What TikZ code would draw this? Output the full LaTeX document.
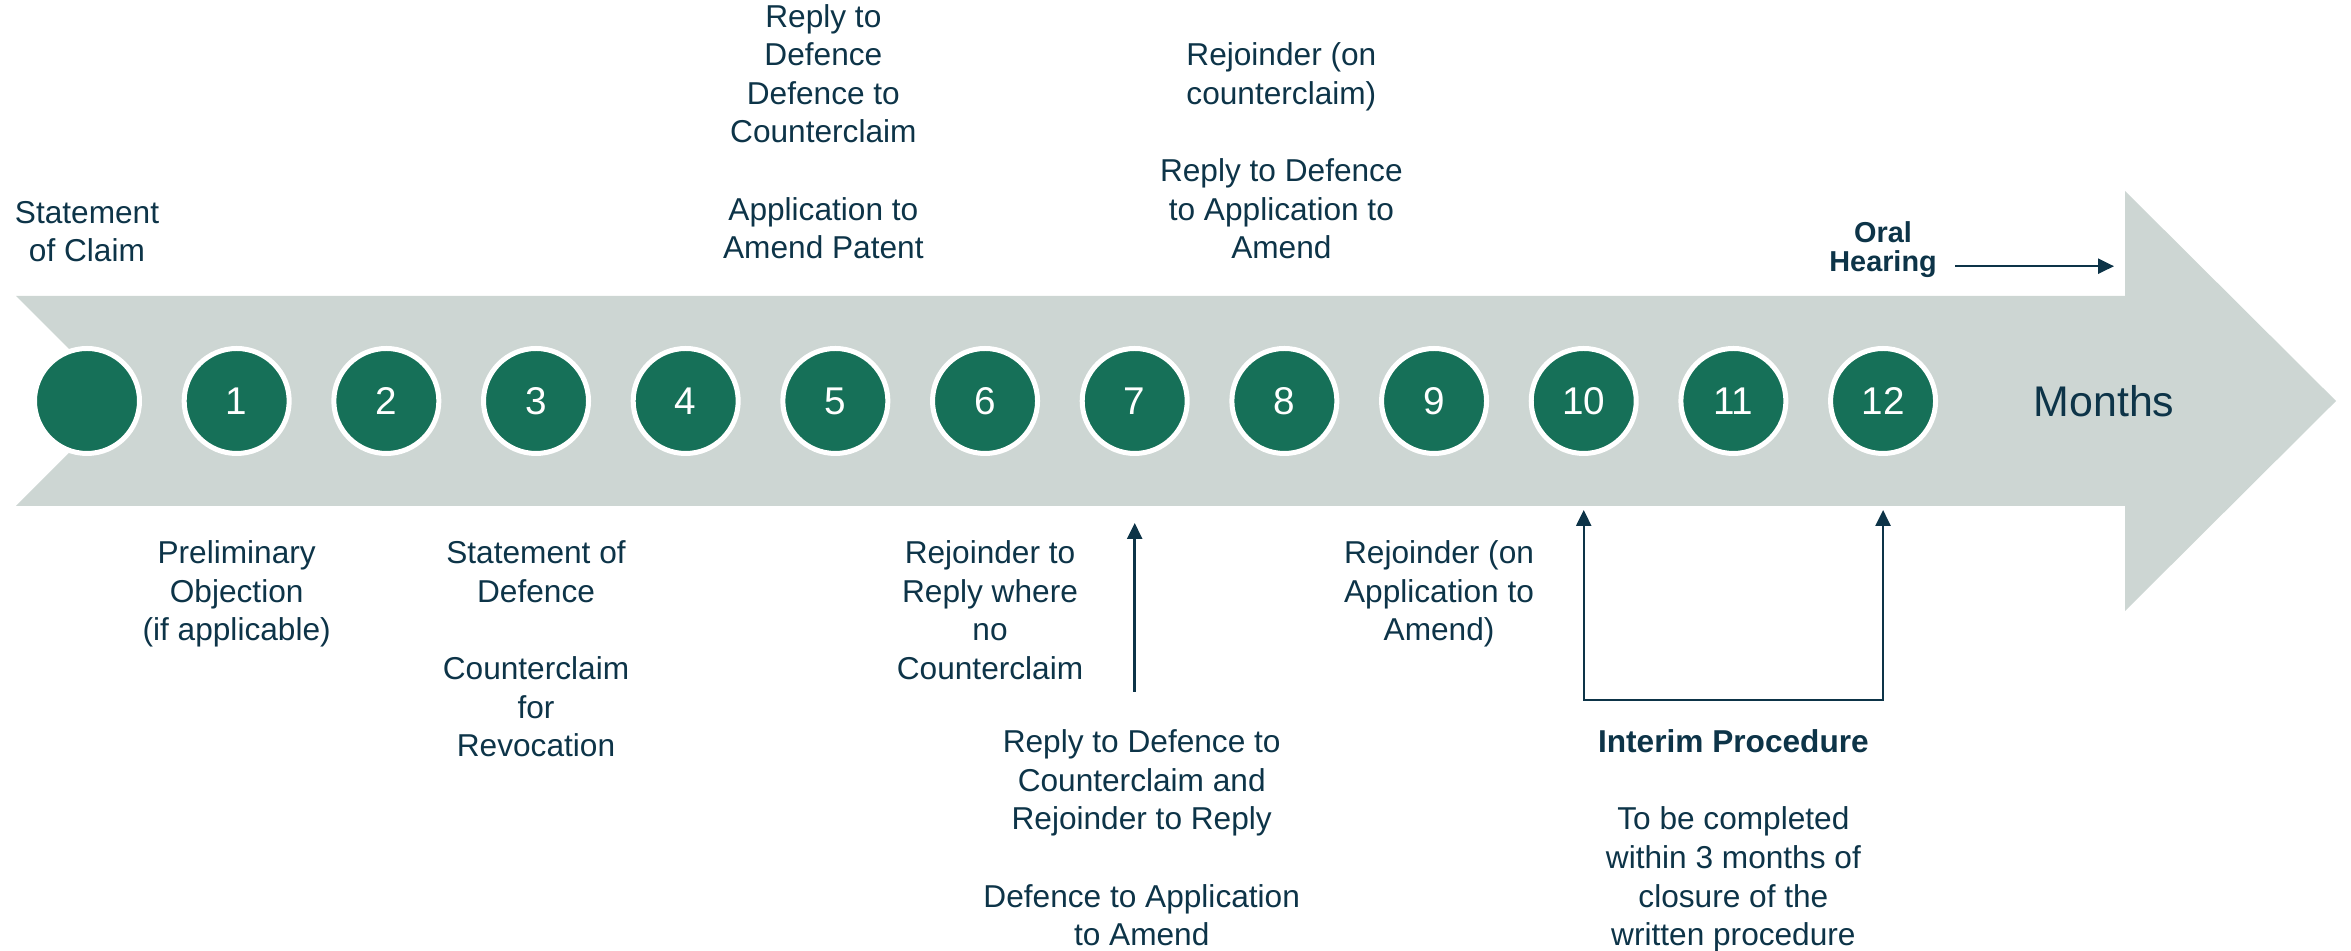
\documentclass[tikz,border=0pt]{standalone}
\usepackage{fontspec}
\setmainfont{Liberation Sans}
\usepackage{xcolor}
\usepackage{tikz}
\usetikzlibrary{arrows.meta, positioning, calc}
\definecolor{tlgreen}{RGB}{22,112,88}
\definecolor{tlgrey}{RGB}{205,214,211}
\definecolor{tlnavy}{RGB}{13,52,72}
\tikzstyle{month} = [circle, minimum size=1.05cm, inner sep=0pt, fill=tlgreen, draw=white, line width=0.05cm, text=white, font=\fontsize{11}{11}\selectfont]
\tikzstyle{stagetext} = [align=center, inner sep=0pt, text=tlnavy, font=\fontsize{9}{11}\selectfont]
\tikzstyle{arrow} = [line width=0.7pt, draw=tlnavy, -{Triangle[length=0.16cm,width=0.15cm]}]
\tikzstyle{twoway} = [line width=0.7pt, draw=tlnavy, {Triangle[length=0.16cm,width=0.15cm]}-{Triangle[length=0.16cm,width=0.15cm]}]

\begin{document}
\begin{tikzpicture}
    \useasboundingbox (0,4.01) rectangle (23.51,-5.50);
    % Timeline arrow
    \fill [tlgrey] (0.16,1.05) -- (21.25,1.05) -- (21.25,2.10) -- (23.36,0) -- (21.25,-2.10) -- (21.25,-1.05) -- (0.16,-1.05) -- (1.21,0) -- cycle;
    \coordinate (headtop) at (21.25,2.10);

    % Month markers
    \foreach \i in {0,...,12}
        \node (m\i) [month] at ({0.87+1.4967*\i},0) {\ifnum\i>0 \i\fi};
    \node (months) [right=0.95cm of m12, inner sep=0pt, text=tlnavy, font=\fontsize{12.2}{14}\selectfont] {Months};

    % Above the timeline
    \node (claim) [stagetext, above=0.83cm of m0] {Statement\\of Claim};
    \node (defcc) [stagetext, above=0.86cm of m5, xshift=-0.12cm] {Reply to\\Defence\\Defence to\\Counterclaim\\[11pt]Application to\\Amend Patent};
    \node (rejcc) [stagetext, above=0.86cm of m8, xshift=-0.03cm] {Rejoinder (on\\counterclaim)\\[11pt]Reply to Defence\\to Application to\\Amend};
    \node (oral) [stagetext, above=0.68cm of m12, font=\fontsize{8.2}{8.3}\selectfont\bfseries] {Oral\\Hearing};

    % Below the timeline
    \node (prelim) [stagetext, below=0.84cm of m1] {Preliminary\\Objection\\(if applicable)};
    \node (defence) [stagetext, below=0.84cm of m3] {Statement of\\Defence\\[11pt]Counterclaim\\for\\Revocation};
    \node (rejnocc) [stagetext, below=0.84cm of m6, xshift=0.05cm] {Rejoinder to\\Reply where\\no\\Counterclaim};
    \node (rejamend) [stagetext, below=0.84cm of m9, xshift=0.05cm] {Rejoinder (on\\Application to\\Amend)};
    \node (replydef) [stagetext, below=2.73cm of m7, xshift=0.07cm] {Reply to Defence to\\Counterclaim and\\Rejoinder to Reply\\[11pt]Defence to Application\\to Amend};
    \node (interim) [stagetext, below=2.73cm of m11] {\textbf{Interim Procedure}\\[11pt]To be completed\\within 3 months of\\closure of the\\written procedure};

    % Arrows
    \draw [arrow] ([xshift=0.18cm,yshift=-0.17cm]oral.east) -- ([xshift=-0.11cm,yshift=-0.17cm]oral.east -| headtop);
    \draw [arrow] ([yshift=0.37cm]replydef.north -| m7) -- ([yshift=-0.67cm]m7.south);
    \draw [twoway] ([yshift=-0.54cm]m10.south) -- ([yshift=-2.44cm]m10.south) -| ([yshift=-0.54cm]m12.south);
\end{tikzpicture}
\end{document}
